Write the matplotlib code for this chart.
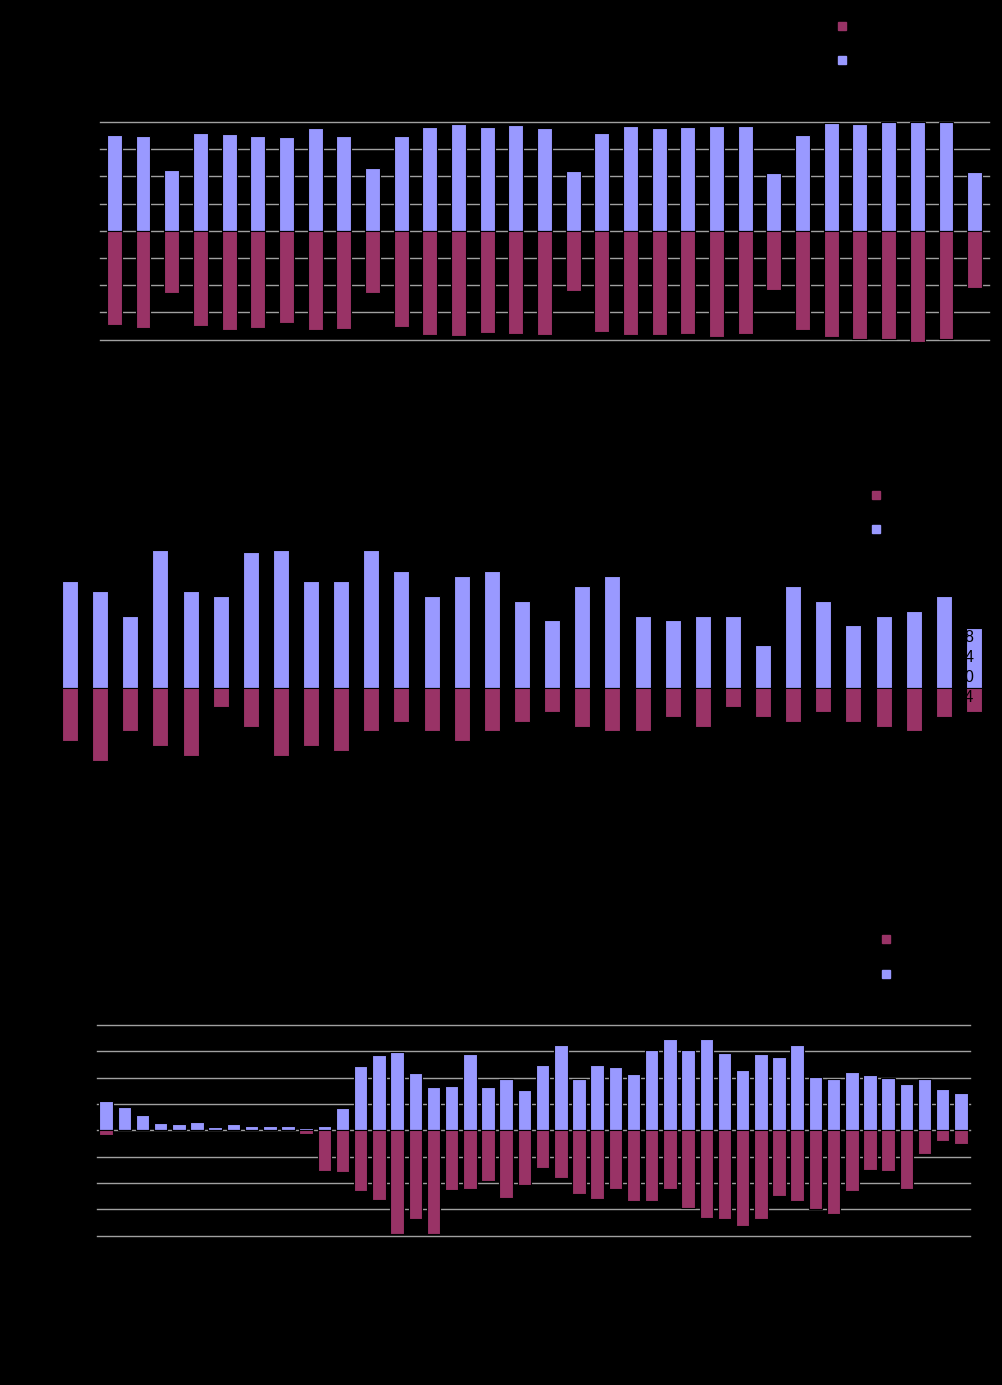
import matplotlib
matplotlib.use("Agg")
from matplotlib import pyplot as plt
from matplotlib.lines import Line2D
import numpy as np

plt.rcParams['font.family'] = ['Liberation Sans', 'DejaVu Sans']

BLUE = '#9999FF'
RED = '#993366'
GRID = '#A0A0A0'

# top chart, 31 categories
top_pos = [3.52, 3.48, 2.23, 3.59, 3.55, 3.48, 3.44, 3.78, 3.48, 2.31, 3.48, 3.81,
           3.92, 3.81, 3.89, 3.78, 2.19, 3.59, 3.85, 3.78, 3.81, 3.85, 3.85, 2.12,
           3.52, 3.96, 3.92, 4.0, 4.0, 4.0, 2.16]
top_neg = [-3.47, -3.58, -2.28, -3.50, -3.65, -3.58, -3.39, -3.65, -3.61, -2.28, -3.54,
           -3.83, -3.87, -3.76, -3.80, -3.83, -2.22, -3.71, -3.83, -3.83, -3.80, -3.91,
           -3.80, -2.18, -3.65, -3.91, -3.98, -3.98, -4.09, -3.98, -2.10]

# middle chart, 31 categories
mid_pos = [21.3, 19.3, 14.3, 27.5, 19.3, 18.3, 27.1, 27.5, 21.3, 21.3, 27.5, 23.3,
           18.3, 22.3, 23.3, 17.3, 13.5, 20.3, 22.3, 14.3, 13.5, 14.3, 14.3, 8.5,
           20.3, 17.3, 12.5, 14.3, 15.3, 18.3, 12.0]
mid_neg = [-10.7, -14.7, -8.7, -11.7, -13.7, -3.9, -7.9, -13.7, -11.7, -12.7, -8.7,
           -6.9, -8.7, -10.7, -8.7, -6.9, -4.9, -7.9, -8.7, -8.7, -5.9, -7.9, -3.9,
           -5.9, -6.9, -4.9, -6.9, -7.9, -8.7, -5.9, -4.9]
mid_labels = ['12', '8', '4', '0', '-4']
mid_label_y = [14, 10, 6, 2, -2]

# bottom chart, 48 categories
bot_pos = [1.10, 0.87, 0.57, 0.27, 0.23, 0.30, 0.11, 0.23, 0.15, 0.15, 0.15, 0.08,
           0.15, 0.84, 2.43, 2.85, 2.97, 2.17, 1.63, 1.67, 2.89, 1.63, 1.94, 1.52,
           2.47, 3.23, 1.94, 2.47, 2.40, 2.13, 3.04, 3.46, 3.04, 3.46, 2.93, 2.28,
           2.89, 2.78, 3.23, 2.02, 1.94, 2.21, 2.09, 1.98, 1.75, 1.94, 1.56, 1.41]
bot_neg = [-0.19, 0, 0, 0, 0, 0, 0, 0, 0, 0, 0, -0.15,
           -1.56, -1.58, -2.32, -2.66, -3.95, -3.35, -3.92, -2.28, -2.21, -1.94, -2.55, -2.09,
           -1.44, -1.82, -2.40, -2.62, -2.24, -2.70, -2.70, -2.24, -2.93, -3.31, -3.35, -3.65,
           -3.35, -2.51, -2.70, -2.97, -3.16, -2.32, -1.52, -1.56, -2.24, -0.91, -0.42, -0.53]

W, H = 1002, 1385


def px_axes(fig, left, right, top, bottom):
    # place axes by pixel box
    return fig.add_axes([left / W, 1 - bottom / H, (right - left) / W, (bottom - top) / H])


def bars(ax, pos, neg, width, ylim, grid):
    x = np.arange(len(pos))
    ax.set_facecolor('black')
    ax.bar(x, pos, width, color=BLUE, edgecolor='black', linewidth=0.8, zorder=2, clip_on=False)
    ax.bar(x, neg, width, color=RED, edgecolor='black', linewidth=0.8, zorder=2, clip_on=False)
    ax.set_xlim(-0.5, len(pos) - 0.5)
    ax.set_ylim(*ylim)
    if grid:
        ax.set_yticks(np.arange(ylim[0], ylim[1] + 1, 1))
        ax.grid(axis='y', color=GRID, linewidth=1, zorder=0)
        ax.set_axisbelow(True)
        for gl in ax.get_ygridlines():
            gl.set_clip_on(False)
    else:
        ax.set_yticks([])
    ax.set_xticks([])
    ax.tick_params(left=False, labelleft=False)
    for s in ax.spines.values():
        s.set_visible(False)


def legend(fig, cx, cy):
    handles = [Line2D([], [], marker='s', linestyle='none', markersize=5.5,
                      markerfacecolor=RED, markeredgecolor=RED),
               Line2D([], [], marker='s', linestyle='none', markersize=5.5,
                      markerfacecolor=BLUE, markeredgecolor=BLUE)]
    fig.legend(handles, ['', ''], loc='upper left', frameon=False,
               bbox_to_anchor=(cx / W, 1 - cy / H), borderpad=0, borderaxespad=0,
               handlelength=1.0, handletextpad=0.4, labelspacing=1.5, fontsize=10,
               labelcolor='black')


fig = plt.figure(figsize=(W / 100, H / 100), dpi=100, facecolor='black')

ax1 = px_axes(fig, 100, 989, 122, 339.5)
bars(ax1, top_pos, top_neg, 0.52, (-4, 4), True)
legend(fig, 835, 19.5)

ax2 = px_axes(fig, 55, 989, 537.7, 787.7)
bars(ax2, mid_pos, mid_neg, 0.53, (-20, 30), False)
for lab, yv in zip(mid_labels, mid_label_y):
    ax2.text(29.98, yv, lab, ha='right', va='center', color='black', fontsize=11.5, zorder=5)
legend(fig, 869, 488.5)

ax3 = px_axes(fig, 97, 970, 1025, 1235.7)
bars(ax3, bot_pos, bot_neg, 0.74, (-4, 4), True)
legend(fig, 879, 933)

fig.savefig('out.png', dpi=100, facecolor='black')
